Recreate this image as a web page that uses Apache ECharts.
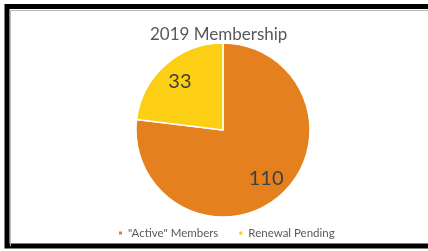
<!DOCTYPE html>
<html>
<head>
<meta charset="utf-8">
<script src="https://cdn.jsdelivr.net/npm/echarts@6/dist/echarts.min.js"></script>
<style>
  html, body { margin: 0; padding: 0; background: #fff; }
  #chart { width: 428px; height: 251px; }
</style>
</head>
<body>
<div id="chart"></div>
<script>
const title = "2019 Membership";
const categories = ["\"Active\" Members", "Renewal Pending"];
const values = [110, 33];
const colors = ["#E5801F", "#FCCF14"];

const myChart = echarts.init(document.getElementById("chart"));
const font = "Lato, 'Open Sans', sans-serif";
const slices = categories.map((name, i) => ({name: name, value: values[i]}));

var option = {
  animation: false,
  color: colors,
  title: {
    text: title,
    left: 145,
    top: 21,
    textStyle: {color: "#595959", fontSize: 17, fontWeight: "normal", fontFamily: font}
  },
  legend: {
    top: 222,
    left: 112,
    itemWidth: 5,
    itemHeight: 5,
    itemGap: 19,
    icon: "rect",
    textStyle: {color: "#595959", fontSize: 11.5, fontFamily: font},
    data: categories
  },
  graphic: [
    {type: "rect", shape: {x: 7, y: 6.5, width: 440, height: 239.5},
     style: {fill: null, stroke: "#000", lineWidth: 5}},
    {type: "polyline", shape: {points: [[10.5, 246], [10.5, 10.5], [428, 10.5]]},
     style: {fill: null, stroke: "#bbb", lineWidth: 1}}
  ],
  series: [
    {
      type: "pie",
      center: [223, 130],
      radius: [0, 87],
      clockwise: true,
      startAngle: 90,
      label: {show: false},
      labelLine: {show: false},
      itemStyle: {borderColor: "#fff", borderWidth: 1.5},
      data: slices
    },
    {
      // transparent ring just for placing the value labels further out
      type: "pie",
      center: [223, 130],
      radius: [37, 87],
      silent: true,
      startAngle: 90,
      itemStyle: {color: "rgba(0,0,0,0)"},
      label: {
        show: true,
        position: "inside",
        formatter: "{c}",
        color: "#404040",
        fontSize: 20,
        fontFamily: font
      },
      labelLine: {show: false},
      data: slices
    }
  ]
};

myChart.setOption(option);
</script>
</body>
</html>
